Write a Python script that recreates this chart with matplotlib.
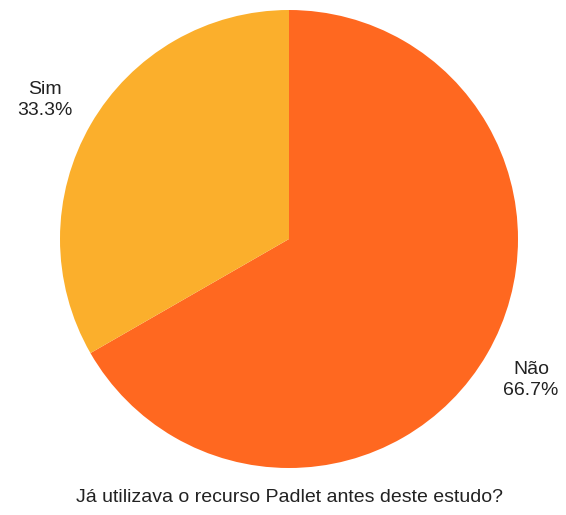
import matplotlib.pyplot as plt

# answers to the survey question
labels = ["Não", "Sim"]
shares = [66.7, 33.3]
colors = ["#FF6820", "#FBAF2C"]
question = "Já utilizava o recurso Padlet antes deste estudo?"

plt.rcParams['font.family'] = ['Liberation Sans', 'DejaVu Sans']

fig = plt.figure(figsize=(5.66, 5.15), dpi=100)
ax = fig.add_axes([0, 0, 1, 1])

ax.pie(shares, colors=colors, startangle=90, counterclock=False,
       center=(289, 276), radius=229, frame=True,
       wedgeprops={'linewidth': 0})
ax.set_xlim(0, 566)
ax.set_ylim(0, 515)
ax.set_aspect('equal')
ax.axis('off')

# slice labels outside the pie
ax.text(45, 515 - 100, f"{labels[1]}\n{shares[1]:.1f}%", ha='center', va='center',
        fontsize=14, color='#222222', linespacing=1.35)
ax.text(531, 515 - 380, f"{labels[0]}\n{shares[0]:.1f}%", ha='center', va='center',
        fontsize=14, color='#222222', linespacing=1.35)

ax.text(290, 515 - 497, question, ha='center', va='center', fontsize=14, color='#222222')

fig.savefig("out.png", dpi=100)
